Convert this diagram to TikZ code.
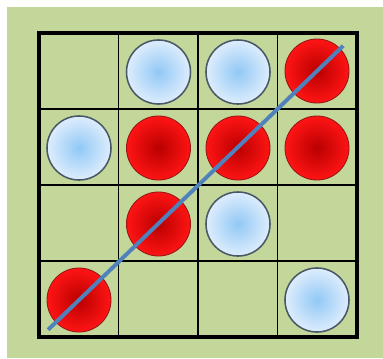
\documentclass[tikz,border=0pt]{standalone}
\usepackage{tikz}
\usepackage{xcolor}
\usetikzlibrary{calc}
\definecolor{cPanel}{RGB}{196,215,155}
\definecolor{cLine}{RGB}{79,129,189}
\definecolor{cBlueIn}{RGB}{145,200,246}
\definecolor{cBlueOut}{RGB}{222,237,252}
\definecolor{cBlueRim}{RGB}{72,88,102}
\definecolor{cRedIn}{RGB}{185,0,0}
\definecolor{cRedOut}{RGB}{255,20,20}
\definecolor{cRedRim}{RGB}{150,20,20}
\tikzset{
	disc/.style    ={circle, minimum size=1.6cm, inner sep=0pt},
	bluedisc/.style={disc, draw=cBlueRim, line width=1.1pt, inner color=cBlueIn, outer color=cBlueOut},
	reddisc/.style ={disc, draw=cRedRim, line width=0.6pt, inner color=cRedIn, outer color=cRedOut},
	winline/.style ={draw=cLine, line width=2.8pt},
}
\begin{document}
\begin{tikzpicture}[x=0.025cm, y=-0.025cm]
	\useasboundingbox (0,0) rectangle (383,358);
	% panel
	\fill[cPanel] (7,7) rectangle (383,358);
	% board
	\draw[line width=1.1pt] (118.5,33) -- (118.5,337) (198,33) -- (198,337) (277.5,33) -- (277.5,337);
	\draw[line width=1.1pt] (39,109) -- (357,109) (39,185) -- (357,185) (39,261) -- (357,261);
	\draw[line width=2.4pt] (39,33) rectangle (357,337);
	% discs, row 1
	\node[bluedisc] (d12) at (158.5,72) {};
	\node[bluedisc] (d13) at (238,72) {};
	\node[reddisc]  (d14) at (317,71) {};
	% row 2
	\node[bluedisc] (d21) at (79,148) {};
	\node[reddisc]  (d22) at (158.5,148) {};
	\node[reddisc]  (d23) at (238,148) {};
	\node[reddisc]  (d24) at (317,148) {};
	% row 3
	\node[reddisc]  (d32) at (158.5,224) {};
	\node[bluedisc] (d33) at (238,224) {};
	% row 4
	\node[reddisc]  (d41) at (79,300) {};
	\node[bluedisc] (d44) at (317,300) {};
	% winning line
	\coordinate (lineA) at ($(d41)!-0.13!(d14)$);
	\coordinate (lineB) at ($(d41)!1.11!(d14)$);
	\draw[winline] (lineA) -- (lineB);
\end{tikzpicture}
\end{document}
